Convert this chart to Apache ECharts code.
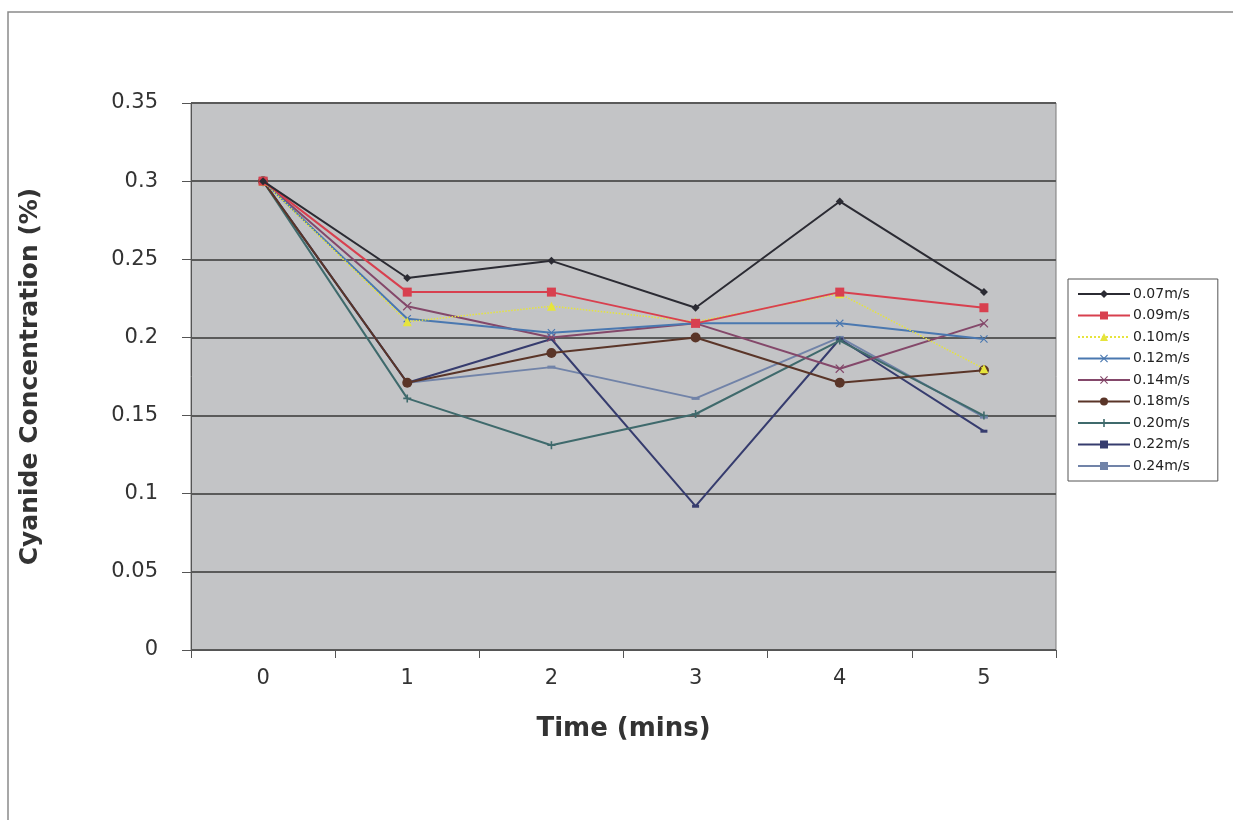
<!DOCTYPE html>
<html>
<head>
<meta charset="utf-8">
<script src="https://cdn.jsdelivr.net/npm/echarts@6/dist/echarts.min.js"></script>
<style>
    html, body { margin: 0; padding: 0; background: #fff; }
    #main { width: 1233px; height: 820px; }
</style>
</head>
<body>
<div id="main"></div>
<script>
// time axis (mins)
var times = ['0', '1', '2', '3', '4', '5'];
var speeds = ['0.07m/s', '0.09m/s', '0.10m/s', '0.12m/s', '0.14m/s', '0.18m/s', '0.20m/s', '0.22m/s', '0.24m/s'];

// cyanide concentration (%) per flow speed
var s007 = [0.30, 0.238, 0.249, 0.219, 0.287, 0.229];
var s009 = [0.30, 0.229, 0.229, 0.209, 0.229, 0.219];
var s010 = [0.30, 0.210, 0.220, 0.210, 0.228, 0.180];
var s012 = [0.30, 0.212, 0.203, 0.209, 0.209, 0.199];
var s014 = [0.30, 0.220, 0.200, 0.209, 0.180, 0.209];
var s018 = [0.30, 0.171, 0.190, 0.200, 0.171, 0.179];
var s020 = [0.30, 0.161, 0.131, 0.151, 0.198, 0.150];
var s022 = [0.30, 0.171, 0.199, 0.092, 0.199, 0.140];
var s024 = [0.30, 0.171, 0.181, 0.161, 0.200, 0.149];

var yTicks = [0, 0.05, 0.1, 0.15, 0.2, 0.25, 0.3, 0.35];

var allData = [s007, s009, s010, s012, s014, s018, s020, s022, s024];
var colors = ['#2b2b33', '#d8404f', '#e6e43c', '#4a78b0', '#84486a', '#5a3528', '#3f6a6c', '#363c6e', '#7183a8'];
var symbols = [
    'diamond',
    'rect',
    'triangle',
    'path://M0,1L1,0L5,4L9,0L10,1L6,5L10,9L9,10L5,6L1,10L0,9L4,5Z',
    'path://M0,1L1,0L5,4L9,0L10,1L6,5L10,9L9,10L5,6L1,10L0,9L4,5Z',
    'circle',
    'path://M4,0H6V4H10V6H6V10H4V6H0V4H4Z',
    'rect',
    'rect'
];
var symSizes = [8, 9, 9, 8, 9, 10, 8, [7, 3], [8, 3]];

var serdata = [];
for (var i = 0; i < speeds.length; i++) {
    serdata.push({
        name: speeds[i],
        type: 'line',
        data: allData[i],
        symbol: symbols[i],
        symbolSize: symSizes[i],
        showAllSymbol: true,
        itemStyle: { color: colors[i] },
        lineStyle: {
            color: colors[i],
            width: i == 2 ? 1.5 : 2,
            type: i == 2 ? 'dotted' : 'solid'
        },
        z: 10 - i
    });
}

var myChart = echarts.init(document.getElementById('main'));
var option = {
    backgroundColor: '#ffffff',
    animation: false,
    graphic: [{
        type: 'rect',
        shape: { x: 8, y: 12, width: 1260, height: 840 },
        style: { fill: 'none', stroke: '#8a8a8a', lineWidth: 1.5 },
        silent: true
    }],
    grid: {
        left: 191,
        right: 177,
        top: 103,
        bottom: 170,
        show: true,
        backgroundColor: '#c3c4c6',
        borderColor: '#7a7a7a',
        borderWidth: 1
    },
    legend: {
        orient: 'vertical',
        left: 1068,
        top: 279,
        data: speeds,
        itemWidth: 52,
        itemHeight: 10,
        itemGap: 7.5,
        padding: [8, 28, 8, 9],
        backgroundColor: '#ffffff',
        borderColor: '#555555',
        borderWidth: 1,
        borderRadius: 0,
        textStyle: {
            fontFamily: 'DejaVu Sans, sans-serif',
            fontSize: 14,
            color: '#222',
            padding: [0, 0, 0, -2]
        }
    },
    xAxis: {
        type: 'category',
        data: times,
        boundaryGap: true,
        name: 'Time (mins)',
        nameLocation: 'middle',
        nameGap: 66,
        nameTextStyle: {
            fontFamily: 'DejaVu Sans, sans-serif',
            fontSize: 26,
            fontWeight: 'bold',
            color: '#333'
        },
        axisLine: { lineStyle: { color: '#555', width: 1 } },
        axisTick: { show: true, length: 8, alignWithLabel: false, lineStyle: { color: '#555' } },
        axisLabel: {
            margin: 18,
            fontFamily: 'DejaVu Sans, sans-serif',
            fontSize: 21,
            color: '#333'
        },
        splitLine: { show: false }
    },
    yAxis: {
        type: 'value',
        min: yTicks[0],
        max: yTicks[yTicks.length - 1],
        interval: 0.05,
        name: 'Cyanide Concentration (%)',
        nameLocation: 'middle',
        nameGap: 148,
        nameTextStyle: {
            fontFamily: 'DejaVu Sans, sans-serif',
            fontSize: 25,
            fontWeight: 'bold',
            color: '#333'
        },
        axisLine: { show: true, lineStyle: { color: '#555', width: 1 } },
        axisTick: { show: true, length: 9, lineStyle: { color: '#555' } },
        axisLabel: {
            margin: 33,
            fontFamily: 'DejaVu Sans, sans-serif',
            fontSize: 21,
            color: '#333',
            formatter: function (v) { return String(Math.round(v * 100) / 100); }
        },
        splitLine: { show: true, lineStyle: { color: '#5a5a5a', width: 2 } }
    },
    series: serdata
};
myChart.setOption(option);
</script>
</body>
</html>
